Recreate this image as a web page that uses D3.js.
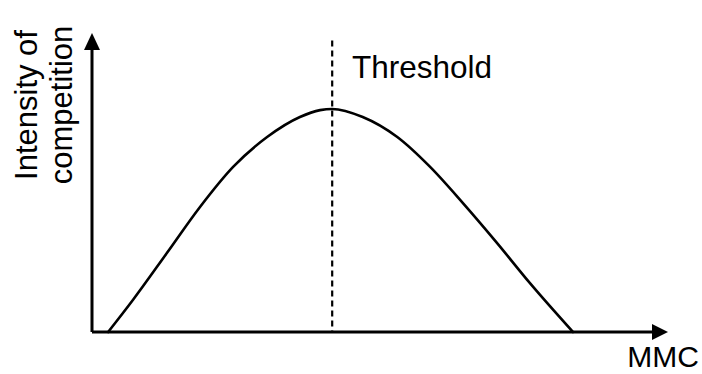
<!DOCTYPE html>
<html>
<head>
<meta charset="utf-8">
<script src="https://cdn.jsdelivr.net/npm/d3@7"></script>
<style>
  html, body { margin: 0; padding: 0; background: #fff; }
  svg { display: block; }
  text { font-family: "Liberation Sans", Arial, sans-serif; fill: #000; }
</style>
</head>
<body>
<svg id="chart" width="702" height="374"></svg>
<script>
// ---- data (arbitrary units, 0..100 on both axes) ----
const curveX = [2.8, 7.1, 13.0, 18.75, 24.5, 30.4, 36.1, 39.6, 41.7, 47.0, 53.0, 58.7, 64.4, 70.3, 76.0, 83.5];
const curveY = [0, 10.7, 26.4, 41.8, 55.2, 65.2, 71.9, 74.2, 74.6, 71.9, 65.2, 55.2, 43.1, 29.8, 16.4, 0];
const thresholdX = [41.7];
const thresholdTop = [97.5];
const axisLabels = ["Intensity of", "competition"];
const xLabel = ["MMC"];
const annotation = ["Threshold"];

const svg = d3.select("#chart");
const x = d3.scaleLinear().domain([0, 100]).range([92, 668]);
const y = d3.scaleLinear().domain([0, 100]).range([332, 33]);

// axes
svg.append("line")
  .attr("x1", x(0)).attr("y1", y(0)).attr("x2", x(97.5)).attr("y2", y(0))
  .attr("stroke", "#000").attr("stroke-width", 3);
svg.append("line")
  .attr("x1", x(0)).attr("y1", y(0)).attr("x2", x(0)).attr("y2", y(95))
  .attr("stroke", "#000").attr("stroke-width", 3);

// arrowheads
svg.append("path")
  .attr("d", `M${x(100)},${y(0)} L${x(100) - 16},${y(0) - 8} L${x(100) - 16},${y(0) + 8} Z`)
  .attr("fill", "#000");
svg.append("path")
  .attr("d", `M${x(0)},${y(100)} L${x(0) - 8},${y(100) + 17} L${x(0) + 8},${y(100) + 17} Z`)
  .attr("fill", "#000");

// curve
const pts = curveX.map((v, i) => [v, curveY[i]]);
svg.append("path")
  .datum(pts)
  .attr("fill", "none")
  .attr("stroke", "#000")
  .attr("stroke-width", 2.6)
  .attr("stroke-linecap", "round")
  .attr("d", d3.line().x(d => x(d[0])).y(d => y(d[1])).curve(d3.curveMonotoneX));

// threshold dashed line
svg.append("line")
  .attr("x1", x(thresholdX[0])).attr("x2", x(thresholdX[0]))
  .attr("y1", y(thresholdTop[0])).attr("y2", y(0))
  .attr("stroke", "#000").attr("stroke-width", 2.2)
  .attr("stroke-dasharray", "6,4");

svg.append("text")
  .attr("x", 352).attr("y", 78)
  .attr("font-size", 31.5)
  .text(annotation[0]);

svg.append("text")
  .attr("x", 699).attr("y", 367)
  .attr("text-anchor", "end")
  .attr("font-size", 30)
  .text(xLabel[0]);

const yl = svg.append("text")
  .attr("transform", "translate(0,105) rotate(-90)")
  .attr("text-anchor", "middle")
  .attr("font-size", 31);
yl.append("tspan").attr("x", 0).attr("y", 37).text(axisLabels[0]);
yl.append("tspan").attr("x", 0).attr("y", 72).text(axisLabels[1]);
</script>
</body>
</html>
